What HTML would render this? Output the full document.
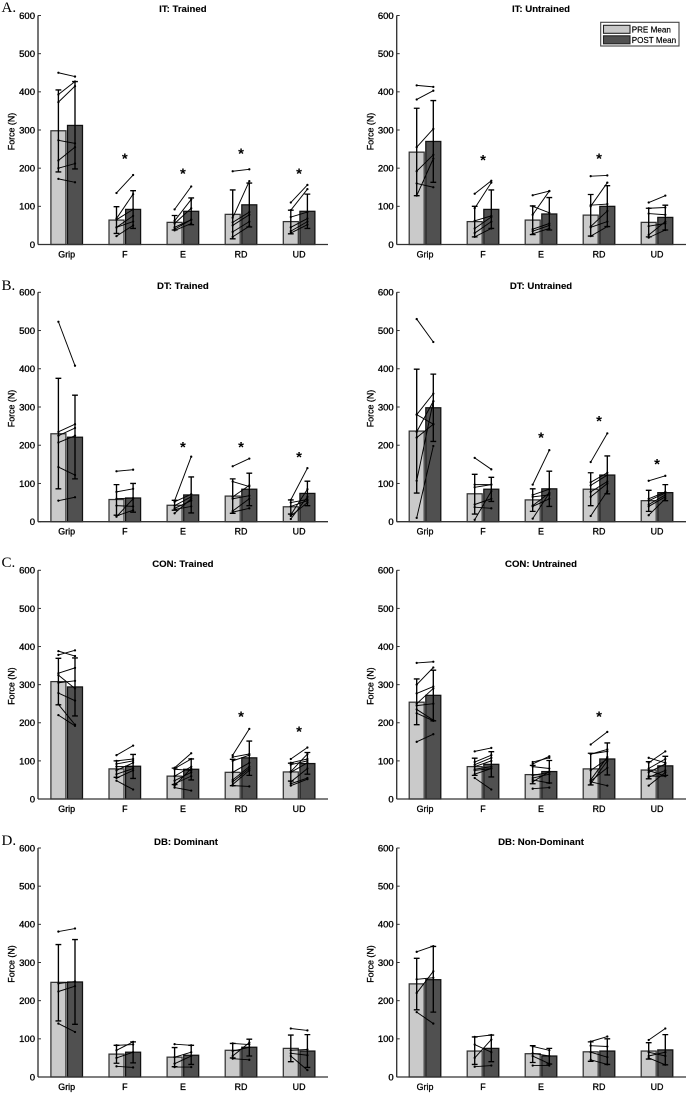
<!DOCTYPE html>
<html lang="en">
<head>
<meta charset="utf-8">
<title>Force pre and post means by panel</title>
<style>
html,body{margin:0;padding:0;background:#fff;}
#figure{display:block;width:688px;height:1093px;filter:blur(0.3px);}
text{font-family:"Liberation Sans",sans-serif;fill:#000;}
.tick{font-size:9.5px;stroke:#000;stroke-width:.32px;}
.cat{font-size:8.9px;stroke:#000;stroke-width:.3px;}
.ylab{font-size:8.9px;stroke:#000;stroke-width:.28px;}
.title{font-size:9.6px;font-weight:bold;stroke:#000;stroke-width:.12px;}
.letter{font-family:"Liberation Serif",serif;font-size:15px;}
.star{font-size:15px;font-weight:bold;}
.leg{font-size:8.1px;stroke:#000;stroke-width:.18px;}
</style>
</head>
<body>
<svg id="figure" xmlns="http://www.w3.org/2000/svg" width="688" height="1093" viewBox="0 0 688 1093">
<rect x="0" y="0" width="688" height="1093" fill="#fff"/>
<g id="panels"></g>
<g>
<rect x="600.7" y="22.3" width="78.3" height="23.7" fill="#fff" stroke="#444" stroke-width="1.1"/>
<rect x="603.5" y="25.3" width="26.5" height="8" fill="#c8c8c8" stroke="#222" stroke-width="1.1"/>
<rect x="603.5" y="35.8" width="26.5" height="8" fill="#505050" stroke="#222" stroke-width="1.1"/>
<text class="leg" x="631.7" y="32.6">PRE Mean</text>
<text class="leg" x="631.7" y="42.9">POST Mean</text>
</g>
<text class="letter" x="1.5" y="12">A.</text>
<text class="letter" x="1.5" y="290">B.</text>
<text class="letter" x="1.5" y="567">C.</text>
<text class="letter" x="1.5" y="845">D.</text>
</svg>
<script>
const categories = ["Grip", "F", "E", "RD", "UD"];
const yTickLabels = [0, 100, 200, 300, 400, 500, 600];
const yAxisTitle = "Force (N)";
const panelTitles = ["IT: Trained", "IT: Untrained", "DT: Trained", "DT: Untrained", "CON: Trained", "CON: Untrained", "DB: Dominant", "DB: Non-Dominant"];

const preMeans = [
  [298, 64, 58, 79, 60],
  [242, 60, 64, 77, 58],
  [230, 58, 43, 67, 39],
  [237, 73, 57, 85, 55],
  [308, 79, 60, 70, 71],
  [254, 85, 64, 79, 76],
  [248, 60, 52, 70, 75],
  [244, 68, 61, 66, 68]
];
const postMeans = [
  [312, 92, 87, 104, 87],
  [270, 92, 80, 100, 71],
  [221, 62, 70, 85, 74],
  [298, 85, 86, 122, 76],
  [294, 86, 78, 108, 93],
  [272, 91, 72, 105, 87],
  [249, 65, 57, 78, 68],
  [255, 75, 55, 68, 71]
];
const preErrLow = [
  [190, 29, 38, 15, 28],
  [128, 20, 26, 22, 20],
  [86, 17, 30, 22, 20],
  [75, 20, 27, 42, 27],
  [247, 57, 38, 35, 47],
  [195, 62, 40, 37, 53],
  [147, 36, 27, 50, 40],
  [176, 33, 38, 41, 47]
];
const preErrHigh = [
  [405, 99, 76, 143, 90],
  [357, 100, 101, 131, 95],
  [375, 97, 56, 112, 57],
  [399, 124, 86, 128, 82],
  [369, 100, 81, 104, 94],
  [315, 107, 88, 120, 98],
  [347, 83, 77, 88, 110],
  [311, 105, 82, 92, 90]
];
const postErrLow = [
  [198, 42, 52, 46, 42],
  [163, 42, 38, 47, 38],
  [112, 25, 23, 42, 42],
  [210, 53, 40, 73, 55],
  [218, 54, 50, 62, 65],
  [205, 58, 42, 63, 62],
  [138, 37, 33, 55, 25],
  [170, 40, 34, 33, 32]
];
const postErrHigh = [
  [427, 141, 122, 161, 132],
  [377, 143, 123, 154, 103],
  [331, 100, 117, 127, 106],
  [386, 116, 132, 172, 97],
  [370, 117, 105, 152, 122],
  [338, 124, 101, 147, 112],
  [360, 92, 83, 99, 111],
  [342, 110, 75, 100, 111]
];
const starLevels = [
  [null, 230, 190, 243, 190],
  [null, 225, null, 229, null],
  [null, null, 200, 200, 173],
  [null, null, 225, 268, 155],
  [null, null, null, 220, 181],
  [null, null, null, 221, null],
  [null, null, null, null, null],
  [null, null, null, null, null]
];
const subjectPairs = [
  [
    [[450,440],[393,427],[373,415],[273,265],[220,255],[200,212],[172,163]],
    [[135,182],[68,132],[65,92],[45,75],[45,60],[22,50]],
    [[92,152],[62,118],[55,95],[45,65],[40,65],[37,55]],
    [[192,197],[70,166],[58,85],[50,78],[33,60],[20,48]],
    [[110,156],[90,145],[72,85],[45,68],[35,60],[30,52]]
  ],
  [
    [[417,413],[380,403],[255,303],[192,235],[160,150],[128,225]],
    [[133,167],[95,162],[62,75],[42,72],[30,60],[20,42]],
    [[129,140],[100,83],[78,140],[40,55],[35,50],[28,42]],
    [[179,181],[103,106],[100,162],[47,88],[45,60],[22,47]],
    [[110,128],[95,97],[81,78],[48,55],[25,60],[18,38]]
  ],
  [
    [[523,408],[235,255],[225,245],[207,225],[143,122],[55,64]],
    [[132,136],[78,86],[60,62],[42,40],[15,30],[13,60]],
    [[55,170],[52,72],[42,65],[35,55],[32,40],[22,60]],
    [[145,165],[105,92],[65,95],[60,68],[28,60],[25,35]],
    [[57,140],[50,58],[40,55],[18,85],[15,50],[7,65]]
  ],
  [
    [[530,470],[280,255],[280,335],[235,315],[220,255],[107,315],[10,198]],
    [[167,137],[97,97],[90,97],[45,60],[38,35],[5,80]],
    [[97,187],[70,85],[65,70],[42,75],[40,60],[8,75]],
    [[156,231],[103,128],[95,122],[78,105],[65,100],[15,80]],
    [[107,120],[60,78],[55,75],[45,70],[40,65],[17,60]]
  ],
  [
    [[388,375],[378,390],[330,344],[325,290],[305,310],[278,258],[248,195],[220,192]],
    [[115,140],[100,105],[92,100],[85,85],[75,95],[65,80],[55,75],[48,25]],
    [[82,120],[80,105],[78,75],[60,85],[48,70],[40,60],[35,80],[30,22]],
    [[115,184],[110,118],[100,115],[70,95],[50,85],[45,80],[38,75],[35,33]],
    [[105,135],[95,105],[90,100],[72,118],[70,95],[45,80],[40,55],[35,52]]
  ],
  [
    [[357,360],[300,345],[277,295],[250,290],[245,250],[235,207],[225,205],[150,170]],
    [[125,134],[97,115],[90,108],[85,100],[78,85],[75,80],[65,80],[55,25]],
    [[97,108],[92,112],[85,80],[62,70],[55,65],[50,42],[45,72],[27,30]],
    [[143,176],[118,130],[118,125],[75,105],[50,110],[47,82],[45,35],[40,100]],
    [[108,95],[95,125],[80,105],[75,60],[70,92],[60,60],[57,75],[35,70]]
  ],
  [
    [[381,389],[245,250],[224,238],[140,118]],
    [[83,85],[70,92],[50,65],[28,25]],
    [[86,83],[52,65],[35,55],[26,26]],
    [[88,85],[68,78],[55,90],[48,45]],
    [[127,122],[70,72],[62,57],[55,18]]
  ],
  [
    [[328,343],[256,260],[220,277],[170,140]],
    [[105,110],[85,65],[50,98],[27,30]],
    [[80,70],[62,55],[55,35],[30,30]],
    [[93,106],[82,80],[65,52],[45,33]],
    [[97,127],[65,55],[55,65],[50,32]]
  ]
];

const SVG_NS = "http://www.w3.org/2000/svg";
const root = document.getElementById("panels");

function make(tag, parent, props, text) {
  const el = document.createElementNS(SVG_NS, tag);
  for (const key in props) el.setAttribute(key, props[key]);
  if (text !== undefined) el.textContent = text;
  parent.appendChild(el);
  return el;
}

function panelFrame(panelIndex) {
  const col = panelIndex % 2;
  const row = Math.floor(panelIndex / 2);
  const zeroY = row === 0 ? 244.5 : row === 1 ? 521.7 : row === 2 ? 799 : 1077;
  const topY = row === 0 ? 15.5 : row === 1 ? 292.3 : row === 2 ? 570.3 : 848;
  const titleBase = row === 0 ? 12 : row === 1 ? 289 : row === 2 ? 567 : 845;
  return {
    col, row, zeroY, topY, titleBase,
    axisX: col === 0 ? 38 : 396.7,
    axisEnd: col === 0 ? 328 : 686,
    firstGroup: col === 0 ? 66.7 : 425,
    step: col === 0 ? 58.1 : 58
  };
}

function yScale(frame, value) {
  return frame.zeroY - value * (frame.zeroY - frame.topY) / 600;
}

function xScale(frame, groupIndex, seriesIndex) {
  const center = frame.firstGroup + groupIndex * frame.step;
  if (seriesIndex === 0) return center - 8.3;
  if (seriesIndex === 1) return center + 8.3;
  return center;
}

function drawBar(group, frame, groupIndex, seriesIndex, value) {
  const barWidth = 15;
  const x = xScale(frame, groupIndex, seriesIndex) - barWidth / 2;
  const y = yScale(frame, value);
  const bar = make("rect", group, {
    x: x, y: y, width: barWidth, height: frame.zeroY - y,
    fill: seriesIndex === 0 ? "#cacaca" : "#505050",
    stroke: seriesIndex === 0 ? "#333" : "#111",
    "stroke-width": 1.25
  });
  
  
}

function drawError(group, frame, groupIndex, seriesIndex, low, high) {
  const x = xScale(frame, groupIndex, seriesIndex);
  const yLow = yScale(frame, low);
  const yHigh = yScale(frame, high);
  const d = "M" + x + " " + yLow + "V" + yHigh +
    "M" + (x - 2.9) + " " + yHigh + "H" + (x + 2.9) +
    "M" + (x - 2.9) + " " + yLow + "H" + (x + 2.9);
  const err = make("path", group, { d: d, fill: "none", stroke: "#000", "stroke-width": 1.35 });
  
  
}

function drawSubject(group, frame, groupIndex, pair) {
  const x0 = xScale(frame, groupIndex, 0);
  const x1 = xScale(frame, groupIndex, 1);
  const y0 = yScale(frame, pair[0]);
  const y1 = yScale(frame, pair[1]);
  const line = make("line", group, { x1: x0, y1: y0, x2: x1, y2: y1, stroke: "#000", "stroke-width": 0.95 });
  
  
  const dotPre = make("circle", group, { cx: x0, cy: y0, r: 1.15, fill: "#000" });
  
  
  const dotPost = make("circle", group, { cx: x1, cy: y1, r: 1.15, fill: "#000" });
  
  
}

function drawAxes(group, frame) {
  const yAxis = make("line", group, { x1: frame.axisX, y1: frame.topY, x2: frame.axisX, y2: frame.zeroY, stroke: "#333", "stroke-width": 1.35 });
  
  
  const xAxis = make("line", group, { x1: frame.axisX, y1: frame.zeroY, x2: frame.axisEnd, y2: frame.zeroY, stroke: "#333", "stroke-width": 1.35 });
  
  

  yTickLabels.forEach(function (tick) {
    const y = yScale(frame, tick);
    const mark = make("line", group, { x1: frame.axisX, y1: y, x2: frame.axisX + 3, y2: y, stroke: "#333", "stroke-width": 1 });
    
    
    const label = make("text", group, { class: "tick", x: frame.axisX - 3, y: y + 3.4, "text-anchor": "end" }, String(tick));
    
    
  });

  categories.forEach(function (name, i) {
    const label = make("text", group, { class: "cat", x: xScale(frame, i, 2), y: frame.zeroY + 12.8, "text-anchor": "middle" }, name);
    
    
  });

  const titleX = frame.axisX - 23.3;
  const titleY = (frame.zeroY + frame.topY) / 2 + 1.5;
  const yTitle = make("text", group, {
    class: "ylab", x: titleX, y: titleY, "text-anchor": "middle",
    transform: "rotate(-90 " + titleX + " " + titleY + ")"
  }, yAxisTitle);
  
  
}

panelTitles.forEach(function (title, p) {
  const frame = panelFrame(p);
  const group = make("g", root, {});
  
  

  categories.forEach(function (name, g) {
    drawBar(group, frame, g, 0, preMeans[p][g]);
    drawBar(group, frame, g, 1, postMeans[p][g]);
  });
  categories.forEach(function (name, g) {
    subjectPairs[p][g].forEach(function (pair) {
      drawSubject(group, frame, g, pair);
    });
    drawError(group, frame, g, 0, preErrLow[p][g], preErrHigh[p][g]);
    drawError(group, frame, g, 1, postErrLow[p][g], postErrHigh[p][g]);
    const level = starLevels[p][g];
    if (level !== null) {
      const star = make("text", group, { class: "star", x: xScale(frame, g, 2), y: yScale(frame, level) + 6.6, "text-anchor": "middle" }, "*");
      
      
    }
  });

  drawAxes(group, frame);

  const titleCenter = p === 6 ? 186 : xScale(frame, 2, 2);
  const heading = make("text", group, { class: "title", x: titleCenter, y: frame.titleBase, "text-anchor": "middle" }, title);
  
  
});
</script>
</body>
</html>
